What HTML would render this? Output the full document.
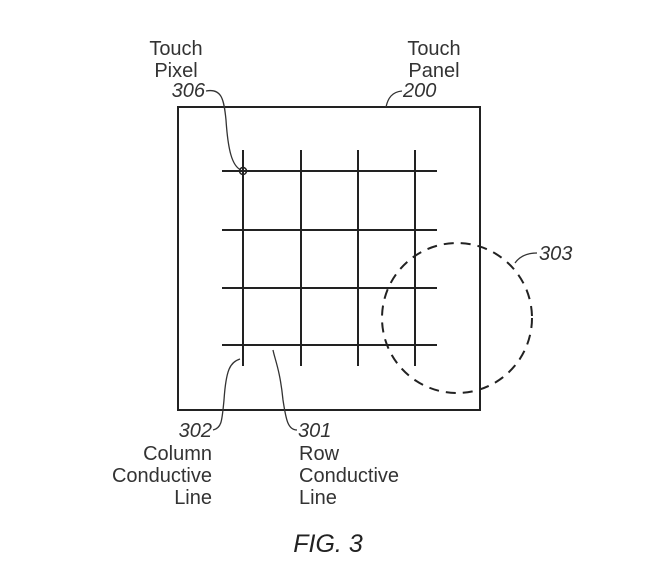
<!DOCTYPE html>
<html><head><style>
body{margin:0;background:#fff;}
svg{display:block;}
text{font-family:"Liberation Sans",sans-serif;font-size:20px;fill:#333;}
.i{font-style:italic;}
</style></head><body>
<svg width="650" height="573" viewBox="0 0 650 573">
<g stroke="#222" fill="none" stroke-width="2">
<rect x="178" y="107" width="302" height="303"/>
<line x1="222" y1="171" x2="437" y2="171"/>
<line x1="222" y1="230" x2="437" y2="230"/>
<line x1="222" y1="288" x2="437" y2="288"/>
<line x1="222" y1="345" x2="437" y2="345"/>
<line x1="243" y1="150" x2="243" y2="366"/>
<line x1="301" y1="150" x2="301" y2="366"/>
<line x1="358" y1="150" x2="358" y2="366"/>
<line x1="415" y1="150" x2="415" y2="366"/>
<circle cx="243" cy="171" r="3.5" stroke-width="1.5"/>
<circle cx="457" cy="318" r="75" stroke-dasharray="10,7"/>
</g>
<g stroke="#333" fill="none" stroke-width="1.3">
<path d="M206,91 C222,88 224,100 226,120 C228,150 232,166 241,170"/>
<path d="M402,91 C392,92 388,98 386,107"/>
<path d="M537,253 C527,253 520,256 515,263"/>
<path d="M213,430 C222,428 222,420 224,400 C226,370 230,362 240,359"/>
<path d="M297,430 C288,430 286,420 283,400 C280,370 275,360 273,350"/>
</g>
<text x="176" y="55" text-anchor="middle">Touch</text>
<text x="176" y="77" text-anchor="middle">Pixel</text>
<text x="205" y="97" text-anchor="end" class="i">306</text>
<text x="434" y="55" text-anchor="middle">Touch</text>
<text x="434" y="77" text-anchor="middle">Panel</text>
<text x="403" y="97" class="i">200</text>
<text x="539" y="260" class="i">303</text>
<text x="212" y="437" text-anchor="end" class="i">302</text>
<text x="298" y="437" class="i">301</text>
<text x="212" y="460" text-anchor="end">Column</text>
<text x="212" y="482" text-anchor="end">Conductive</text>
<text x="212" y="504" text-anchor="end">Line</text>
<text x="299" y="460">Row</text>
<text x="299" y="482">Conductive</text>
<text x="299" y="504">Line</text>
<text x="328" y="552" text-anchor="middle" class="i" style="font-size:25px;fill:#222;">FIG. 3</text>
</svg>
</body></html>
